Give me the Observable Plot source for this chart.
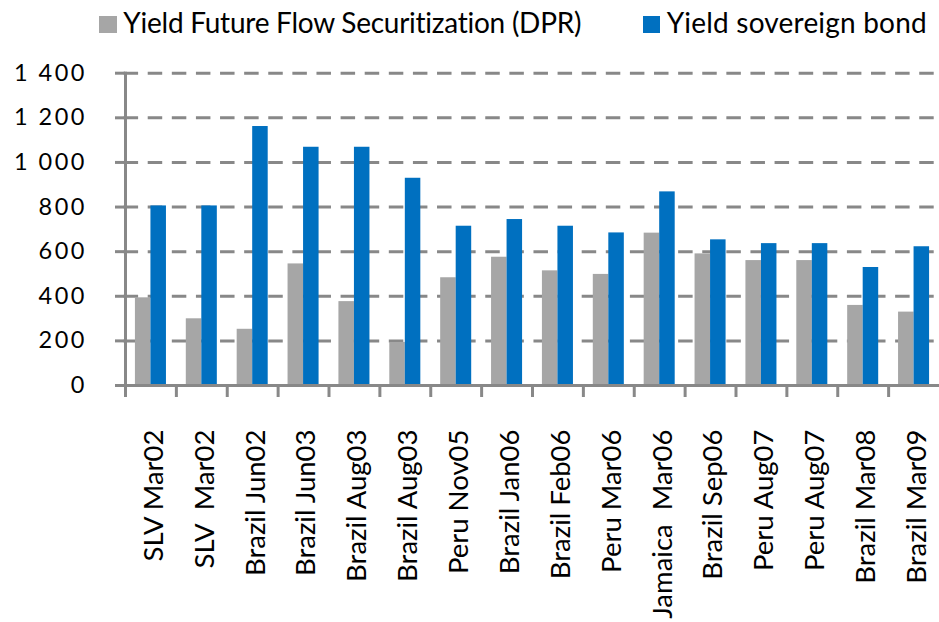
<!DOCTYPE html>
<html>
<head>
<meta charset="utf-8">
<script src="https://cdn.jsdelivr.net/npm/d3@7"></script>
<script src="https://cdn.jsdelivr.net/npm/@observablehq/plot@0.6"></script>
<style>
  body { margin: 0; background: #fff; font-family: Lato, sans-serif; }
  #legend { position: relative; width: 939px; height: 50px; }
  .item { position: absolute; top: 0; height: 50px; }
  .sw { position: absolute; top: 16px; width: 17.4px; height: 17.3px; }
  .lab { position: absolute; top: 5px; font-size: 28px; line-height: 34px; white-space: pre; color: #000; }
  svg text { white-space: pre; }
  svg g[aria-label="y-axis tick label"] text { letter-spacing: 2.5px; }
</style>
</head>
<body>
<div id="legend"></div>
<div id="chart"></div>
<script>
const categories = ["SLV Mar02", "SLV  Mar02", "Brazil Jun02", "Brazil Jun03", "Brazil Aug03", "Brazil Aug03",
  "Peru Nov05", "Brazil Jan06", "Brazil Feb06", "Peru Mar06", "Jamaica  Mar06", "Brazil Sep06",
  "Peru Aug07", "Peru Aug07", "Brazil Mar08", "Brazil Mar09"];
const seriesNames = ["Yield Future Flow Securitization (DPR)", "Yield sovereign bond"];
const dprYield = [393, 299, 252, 545, 376, 193, 483, 575, 514, 498, 683, 590, 560, 560, 359, 329];
const sovereignYield = [805, 805, 1161, 1068, 1068, 929, 714, 744, 714, 684, 868, 653, 636, 636, 529, 622];
const yTicks = [0, 200, 400, 600, 800, 1000, 1200, 1400];
const colors = ["#A6A6A6", "#0070C0"];

const data = [];
categories.forEach((c, i) => {
  data.push({i, series: seriesNames[0], value: dprYield[i]});
  data.push({i, series: seriesNames[1], value: sovereignYield[i]});
});

// Legend (HTML, above the SVG)
const legend = document.getElementById("legend");
const legendLeft = [99.3, 642.7];
const legendSpacing = [-0.25, 0.2];
seriesNames.forEach((name, k) => {
  const item = document.createElement("div");
  item.className = "item";
  item.style.left = legendLeft[k] + "px";
  const sw = document.createElement("div");
  sw.className = "sw";
  sw.style.left = "0px";
  sw.style.background = colors[k];
  const lab = document.createElement("div");
  lab.className = "lab";
  lab.style.left = "24px";
  lab.style.letterSpacing = legendSpacing[k] + "px";
  lab.textContent = name;
  item.appendChild(sw);
  item.appendChild(lab);
  legend.appendChild(item);
});

const fmt = d => d3.format(",")(d).replace(/,/g, " ");

const chart = Plot.plot({
  width: 939,
  height: 572,
  marginTop: 22.7,
  marginBottom: 237,
  marginLeft: 125,
  marginRight: 0,
  style: {fontFamily: "Lato, sans-serif", background: "#fff"},
  fx: {domain: d3.range(categories.length), padding: 0, round: false, label: null},
  x: {domain: seriesNames, paddingInner: 0, paddingOuter: 0.64, round: false, axis: null},
  y: {domain: [0, 1400], label: null},
  color: {domain: seriesNames, range: colors},
  marks: [
    // dashed gridlines drawn as long inward ticks of the y axis
    Plot.axisY({ticks: yTicks.filter(d => d > 0), tickSize: -810.1, dx: -1.4, text: null,
      stroke: "#888", strokeWidth: 3, strokeOpacity: 1, strokeDasharray: "14.5,9.61", label: null}),
    Plot.barY(data, {fx: "i", x: "series", y: "value", fill: "series"}),
    Plot.ruleY([0], {stroke: "#888", strokeWidth: 3}),
    Plot.frame({anchor: "left", facetAnchor: "left", stroke: "#888", strokeWidth: 3, insetBottom: -10}),
    Plot.frame({anchor: "left", stroke: "#888", strokeWidth: 3, insetTop: 312.3, insetBottom: -10}),
    Plot.axisY({ticks: yTicks, tickSize: 10, tickPadding: 28.5, tickFormat: fmt, stroke: "#888",
      strokeWidth: 3, fill: "#000", fontSize: 23.5, label: null}),
    Plot.axisFx({anchor: "bottom", tickSize: 0, tickPadding: 44, tickRotate: -90, dx: 3,
      tickFormat: i => categories[i], fontSize: 27.5, fill: "#000", label: null})
  ]
});
document.getElementById("chart").appendChild(chart);
</script>
</body>
</html>
